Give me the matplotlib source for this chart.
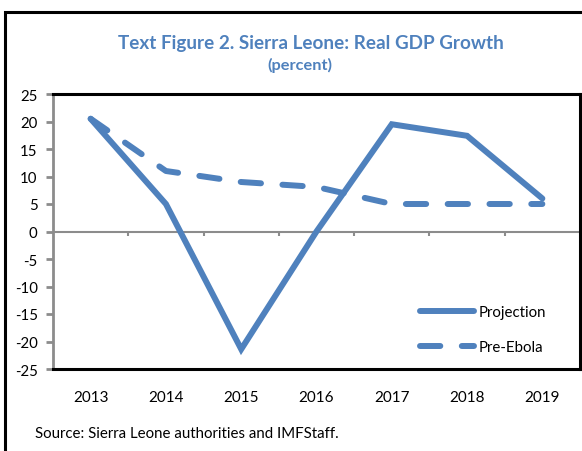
import matplotlib
matplotlib.use("Agg")
import matplotlib.pyplot as plt
from matplotlib.patches import Rectangle

plt.rcParams['font.family'] = ['Lato', 'DejaVu Sans']

# Data
years = ['2013', '2014', '2015', '2016', '2017', '2018', '2019']
projection = [20.5, 5.0, -21.4, 0.0, 19.5, 17.4, 6.0]
pre_ebola = [20.5, 11.0, 9.0, 8.1, 5.0, 5.0, 5.0]
yticks = [25, 20, 15, 10, 5, 0, -5, -10, -15, -20, -25]

blue = '#4F81BD'
gray = '#8C8C8C'

fig = plt.figure(figsize=(5.82, 4.52), dpi=100)

# outer frame of the text figure
fig.patches.append(Rectangle((5 / 582, -0.05), 1.0, (452 - 13) / 452 + 0.05,
                             transform=fig.transFigure, fill=False,
                             edgecolor='black', linewidth=2.2))

fig.text(311 / 582, 1 - 44 / 452, 'Text Figure 2. Sierra Leone: Real GDP Growth',
         ha='center', va='center', color=blue, fontsize=13.6, fontweight='bold')
fig.text(300 / 582, 1 - 65 / 452, '(percent)', ha='center', va='center',
         color=blue, fontsize=11.8, fontweight='bold')

ax = fig.add_axes([53 / 582, (452 - 370) / 452, (580 - 53) / 582, (370 - 95) / 452])

x = range(len(years))
ax.plot(x, projection, color=blue, linewidth=4.3, solid_capstyle='round',
        solid_joinstyle='miter', label='Projection')
ax.plot(x, pre_ebola, color=blue, linewidth=4.3, linestyle=(0, (3.4, 3.6)),
        dash_capstyle='round', label='Pre-Ebola')

ax.set_xlim(-0.5, len(years) - 0.5)
ax.set_ylim(-25, 25)

# zero line with category boundary ticks
ax.axhline(0, color=gray, linewidth=1.5, zorder=1)
ax.vlines([i + 0.5 for i in range(len(years) - 1)], -0.8, 0, color=gray,
          linewidth=1.5, zorder=1)

ax.set_yticks(yticks)
ax.set_yticklabels([str(v) for v in yticks])
ax.set_xticks(list(x))
ax.set_xticklabels(years)
ax.tick_params(axis='y', length=5, width=2, color=gray, labelsize=10.8, pad=6)
ax.tick_params(axis='x', length=0, labelsize=11, pad=15)

for side in ['top', 'right', 'bottom']:
    ax.spines[side].set_linewidth(2.2)
    ax.spines[side].set_color('black')
ax.spines['left'].set_linewidth(2)
ax.spines['left'].set_color(gray)

ax.legend(loc='upper left', bbox_to_anchor=(361 / 527, (370 - 300) / 275),
          frameon=False, fontsize=10.8, handlelength=3.6, handletextpad=0.3,
          labelspacing=1.4, borderaxespad=0)

fig.text(35 / 582, 1 - 434 / 452, 'Source: Sierra Leone authorities and IMFStaff.',
         ha='left', va='center', fontsize=10.8)

fig.savefig('out.png', dpi=100)
